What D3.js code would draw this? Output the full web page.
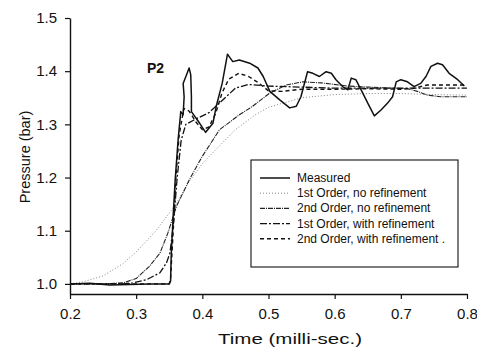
<!DOCTYPE html>
<html lang="en">
<head>
<meta charset="UTF-8">
<title>P2 pressure</title>
<script src="https://cdnjs.cloudflare.com/ajax/libs/d3/7.8.5/d3.min.js"></script>
<style>
  body { margin: 0; background: #fff; }
  text { font-family: "Liberation Sans", Arial, sans-serif; fill: #111; }
</style>
</head>
<body>
<svg id="chart" width="477" height="349"></svg>
<script>
// measured trace
var measT = [0.200, 0.230, 0.260, 0.290, 0.320, 0.350, 0.352, 0.353, 0.356, 0.359, 0.3634, 0.3674, 0.371,
  0.3725, 0.371, 0.376, 0.380, 0.3825, 0.3835, 0.3835, 0.396, 0.405, 0.416, 0.421, 0.430, 0.438, 0.446,
  0.456, 0.4715, 0.484, 0.492, 0.502, 0.517, 0.532, 0.542, 0.549, 0.559, 0.567, 0.577, 0.587, 0.595,
  0.602, 0.612, 0.620, 0.625, 0.632, 0.640, 0.650, 0.660, 0.670, 0.680, 0.6875, 0.693, 0.700, 0.710,
  0.720, 0.730, 0.738, 0.7455, 0.7555, 0.763, 0.773, 0.786, 0.796];
var measP = [1.000, 1.001, 0.998, 0.999, 1.000, 1.000, 1.005, 1.055, 1.130, 1.196, 1.271, 1.324, 1.318,
  1.352, 1.377, 1.393, 1.406, 1.393, 1.352, 1.324, 1.302, 1.285, 1.302, 1.334, 1.377, 1.432, 1.418,
  1.421, 1.415, 1.406, 1.390, 1.362, 1.346, 1.331, 1.334, 1.352, 1.399, 1.396, 1.390, 1.399, 1.396,
  1.384, 1.371, 1.365, 1.387, 1.384, 1.365, 1.340, 1.316, 1.327, 1.340, 1.352, 1.380, 1.384, 1.380,
  1.371, 1.377, 1.390, 1.409, 1.415, 1.412, 1.396, 1.384, 1.372];

// 1st order, no refinement
var o1nT = [0.20, 0.22, 0.25, 0.28, 0.30, 0.33, 0.36, 0.38, 0.40, 0.42, 0.45, 0.48, 0.50, 0.55, 0.60, 0.65, 0.70, 0.75, 0.80];
var o1nP = [1.000, 1.004, 1.015, 1.038, 1.060, 1.100, 1.150, 1.192, 1.226, 1.252, 1.290, 1.318, 1.332, 1.350, 1.356, 1.358, 1.358, 1.356, 1.355];

// 2nd order, no refinement
var o2nT = [0.20, 0.25, 0.28, 0.30, 0.32, 0.336, 0.348, 0.361, 0.38, 0.40, 0.426, 0.456, 0.476, 0.502, 0.527, 0.552, 0.58, 0.62, 0.67, 0.71, 0.725, 0.74, 0.76, 0.80];
var o2nP = [1.000, 1.000, 1.002, 1.010, 1.033, 1.058, 1.096, 1.146, 1.195, 1.240, 1.290, 1.318, 1.334, 1.359, 1.374, 1.380, 1.378, 1.372, 1.369, 1.367, 1.362, 1.355, 1.352, 1.352];

// 1st order, with refinement
var o1rT = [0.20, 0.28, 0.295, 0.316, 0.336, 0.346, 0.351, 0.356, 0.362, 0.368, 0.375, 0.39, 0.41, 0.43, 0.45, 0.47, 0.50, 0.55, 0.60, 0.70, 0.80];
var o1rP = [1.000, 1.000, 1.002, 1.008, 1.021, 1.040, 1.058, 1.108, 1.200, 1.270, 1.300, 1.310, 1.322, 1.345, 1.368, 1.375, 1.372, 1.370, 1.368, 1.368, 1.368];

// 2nd order, with refinement
var o2rT = [0.20, 0.30, 0.350, 0.352, 0.356, 0.360, 0.365, 0.372, 0.380, 0.390, 0.400, 0.410, 0.420, 0.430, 0.440, 0.455, 0.470, 0.485, 0.500, 0.520, 0.55, 0.60, 0.65, 0.70, 0.72, 0.74, 0.80];
var o2rP = [1.000, 1.000, 1.000, 1.010, 1.100, 1.200, 1.280, 1.330, 1.325, 1.305, 1.290, 1.295, 1.320, 1.360, 1.385, 1.396, 1.390, 1.378, 1.363, 1.362, 1.366, 1.366, 1.367, 1.366, 1.368, 1.374, 1.374];

var xTicks = [0.2, 0.3, 0.4, 0.5, 0.6, 0.7, 0.8];
var yTicks = [1.0, 1.1, 1.2, 1.3, 1.4, 1.5];
var legendNames = ["Measured", "1st Order, no refinement", "2nd Order, no refinement",
  "1st Order, with refinement", "2nd Order, with refinement ."];

var svg = d3.select("#chart");

var x = d3.scaleLinear().domain([0.2, 0.8]).range([70, 467]);
var y = d3.scaleLinear().domain([0.981, 1.5]).range([294, 18]);

// axes
var xAxis = svg.append("g")
    .attr("transform", "translate(0,294)")
    .call(d3.axisBottom(x).tickValues(xTicks).tickFormat(d3.format(".1f")).tickSize(5).tickSizeOuter(0));
var yAxis = svg.append("g")
    .attr("transform", "translate(70,0)")
    .call(d3.axisLeft(y).tickValues(yTicks).tickFormat(d3.format(".1f")).tickSize(5).tickSizeOuter(0));

[xAxis, yAxis].forEach(function(g) {
    g.select(".domain").attr("stroke", "#111").attr("stroke-width", 1.4);
    g.selectAll(".tick line").attr("stroke", "#111").attr("stroke-width", 1.2);
    g.selectAll(".tick text").attr("font-size", 15).attr("font-family", "Liberation Sans, Arial, sans-serif").attr("fill", "#111");
});
xAxis.selectAll(".tick text").attr("dy", "1.15em");
yAxis.selectAll(".tick text").attr("x", -13);

svg.append("text")
    .attr("x", 218).attr("y", 344)
    .attr("font-size", 15)
    .attr("textLength", 144)
    .attr("lengthAdjust", "spacingAndGlyphs")
    .text("Time (milli-sec.)");

svg.append("text")
    .attr("transform", "translate(30,157) rotate(-90)")
    .attr("text-anchor", "middle")
    .attr("font-size", 14.5)
    .text("Pressure (bar)");

svg.append("text")
    .attr("x", 147).attr("y", 73)
    .attr("font-size", 14)
    .attr("font-weight", "bold")
    .text("P2");

// series
var series = [
    {t: o1nT, p: o1nP, dash: "1,2", w: 0.9, c: "#777"},
    {t: o2nT, p: o2nP, dash: "5,1,1,1", w: 1.1, c: "#222"},
    {t: o1rT, p: o1rP, dash: "7,2,2,2", w: 1.3, c: "#111"},
    {t: o2rT, p: o2rP, dash: "4,3", w: 1.4, c: "#111"},
    {t: measT, p: measP, dash: null, w: 1.5, c: "#111"}
];

var line = d3.line()
    .x(function(d) { return x(d[0]); })
    .y(function(d) { return y(d[1]); });

series.forEach(function(s) {
    svg.append("path")
        .datum(d3.zip(s.t, s.p))
        .attr("fill", "none")
        .attr("stroke", s.c)
        .attr("stroke-width", s.w)
        .attr("stroke-dasharray", s.dash)
        .attr("stroke-linejoin", "round")
        .attr("d", line);
});

// legend
var legendStyles = [series[4], series[0], series[1], series[2], series[3]];
var lg = svg.append("g");
lg.append("rect")
    .attr("x", 251).attr("y", 160).attr("width", 207).attr("height", 107)
    .attr("fill", "#fff").attr("stroke", "#111").attr("stroke-width", 1.1);
legendNames.forEach(function(name, i) {
    var yy = 178 + i * 15.2;
    var s = legendStyles[i];
    lg.append("line")
        .attr("x1", 260).attr("x2", 290).attr("y1", yy).attr("y2", yy)
        .attr("stroke", s.c).attr("stroke-width", s.w)
        .attr("stroke-dasharray", s.dash);
    lg.append("text")
        .attr("x", 297).attr("y", yy + 4)
        .attr("font-size", 12)
        .text(name);
});
</script>
</body>
</html>
